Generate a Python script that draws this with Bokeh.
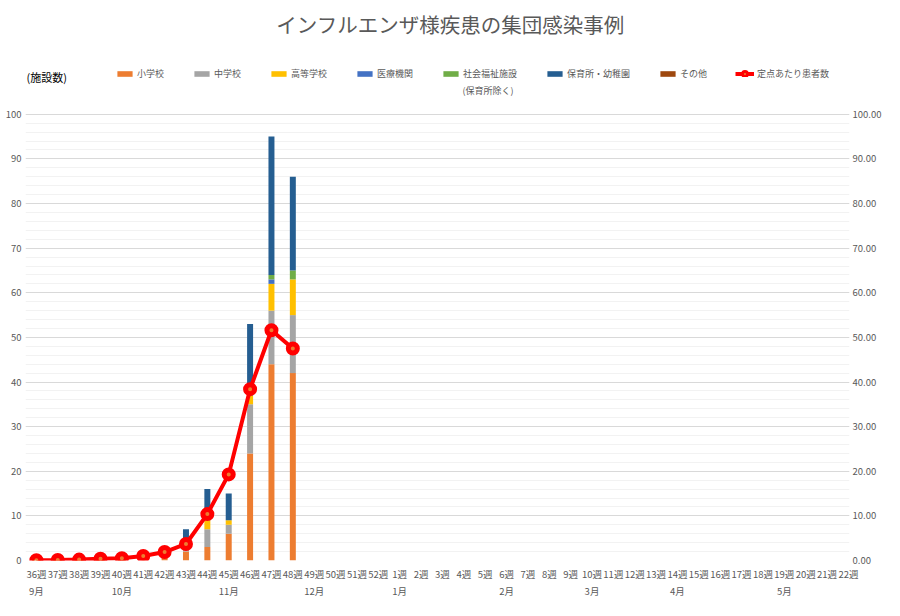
from bokeh.plotting import figure
from bokeh.models import (ColumnDataSource, Range1d, LinearAxis, FixedTicker,
                          NumeralTickFormatter, Legend, LegendItem, Label)
from bokeh.embed import file_html
from bokeh.resources import INLINE

FONT = "Noto Sans CJK JP"

weeks = [f"{w}週" for w in range(36, 53)] + [f"{w}週" for w in range(1, 23)]
months = ["9月", "10月", "11月", "12月", "1月", "2月", "3月", "4月", "5月"]
month_pos = [0, 4, 9, 13, 17, 22, 26, 30, 35]

# facility counts per week (36週 .. 48週), rest of season empty
elementary = [0, 0, 0, 0, 0, 0, 1, 2, 3, 6, 24, 44, 42]
junior_high = [0, 0, 0, 0, 0, 0, 0, 3, 4, 2, 11, 12, 13]
high_school = [0, 0, 0, 0, 0, 0, 0, 0, 2, 1, 2, 6, 8]
medical = [0, 0, 0, 0, 0, 0, 0, 0, 0, 0, 0, 1, 0]
welfare = [0, 0, 0, 0, 0, 0, 0, 0, 0, 0, 0, 1, 2]
nursery = [0, 0, 0, 0, 0, 0, 0, 2, 7, 6, 16, 31, 21]
other = [0, 0, 0, 0, 0, 0, 0, 0, 0, 0, 0, 0, 0]

# patients per sentinel site
per_site = [0.06, 0.1, 0.2, 0.4, 0.5, 1.0, 1.9, 3.7, 10.4, 19.3, 38.4, 51.6, 47.5]

names = ["小学校", "中学校", "高等学校", "医療機関", "社会福祉施設", "保育所・幼稚園", "その他"]
keys = ["elem", "jhs", "hs", "med", "welf", "nurs", "oth"]
colors = ["#ED7D31", "#A5A5A5", "#FFC000", "#4472C4", "#70AD47", "#255E91", "#9E480E"]

n = len(weeks)
pad = n - len(elementary)
data = {"x": list(range(n))}
for k, arr in zip(keys, [elementary, junior_high, high_school, medical, welfare, nursery, other]):
    data[k] = arr + [0] * pad
src = ColumnDataSource(data)

# frame reaches up to the top edge so that title/legend live inside it
YTOP = 100 * 561 / 447

p = figure(width=884, height=600, output_backend="svg", toolbar_location=None,
           x_range=Range1d(-0.51, n - 0.95), y_range=Range1d(0, YTOP),
           min_border_top=0, min_border_bottom=39, min_border_left=25, min_border_right=0)
p.outline_line_color = None

ticker = FixedTicker(ticks=list(range(0, 101, 10)), minor_ticks=list(range(0, 101, 2)))

p.yaxis.ticker = ticker
p.ygrid.ticker = ticker
p.ygrid.grid_line_color = "#D9D9D9"
p.ygrid.minor_grid_line_color = "#F2F2F2"
p.xgrid.grid_line_color = None

bars = p.vbar_stack(keys, x="x", width=0.28, source=src, color=colors, line_color=None)

p.extra_y_ranges = {"rate": Range1d(0, YTOP)}
xs = list(range(len(per_site)))
ln = p.line(xs, per_site, y_range_name="rate", line_color="#FF0000", line_width=4)
mk = p.scatter(xs, per_site, y_range_name="rate", size=9, line_color="#FF0000",
               line_width=5, fill_color="#ED7D31")

right = LinearAxis(y_range_name="rate", ticker=ticker, formatter=NumeralTickFormatter(format="0.00"))
p.add_layout(right, "right")

for ax in [p.yaxis[0], right]:
    ax.axis_line_color = None
    ax.major_tick_line_color = None
    ax.minor_tick_line_color = None
    ax.major_tick_out = 0
    ax.minor_tick_out = 0
    ax.major_label_text_font = FONT
    ax.major_label_text_font_size = "9.5px"
    ax.major_label_text_color = "#595959"
    ax.major_label_standoff = 4
right.major_label_standoff = 3

xa = p.xaxis[0]
xa.ticker = FixedTicker(ticks=list(range(n)))
xa.major_label_overrides = {i: w for i, w in enumerate(weeks)}
month_axis = LinearAxis(ticker=FixedTicker(ticks=month_pos),
                        major_label_overrides={pos: m for pos, m in zip(month_pos, months)})
p.add_layout(month_axis, "below")
for ax, so in [(xa, 6), (month_axis, 0)]:
    ax.axis_line_color = None
    ax.major_tick_line_color = None
    ax.minor_tick_line_color = None
    ax.major_tick_out = 0
    ax.minor_tick_out = 0
    ax.major_label_text_font = FONT
    ax.major_label_text_font_size = "9.5px"
    ax.major_label_text_color = "#595959"
    ax.major_label_standoff = so

items = [LegendItem(label=nm, renderers=[r]) for nm, r in zip(names, bars)]
items.append(LegendItem(label="定点あたり患者数", renderers=[ln, mk]))
legend = Legend(items=items, orientation="horizontal", location=(90, 480),
                glyph_width=19, glyph_height=7, label_standoff=3, spacing=28,
                padding=0, margin=0, border_line_color=None, background_fill_alpha=0,
                label_text_font=FONT, label_text_font_size="9px",
                label_text_color="#595959", label_height=12)
p.add_layout(legend)

p.add_layout(Label(x=425, y=537, x_units="screen", y_units="screen",
                   text="インフルエンザ様疾患の集団感染事例", text_align="center",
                   text_baseline="middle", text_font=FONT, text_font_size="20.5px",
                   text_color="#595959"))
p.add_layout(Label(x=1, y=484, x_units="screen", y_units="screen", text="(施設数)",
                   text_baseline="middle", text_font=FONT, text_font_size="11px",
                   text_color="#000000"))
p.add_layout(Label(x=437, y=470, x_units="screen", y_units="screen", text="(保育所除く)",
                   text_baseline="middle", text_font=FONT, text_font_size="9px",
                   text_color="#595959"))

open("out.html", "w").write(file_html(p, INLINE))
